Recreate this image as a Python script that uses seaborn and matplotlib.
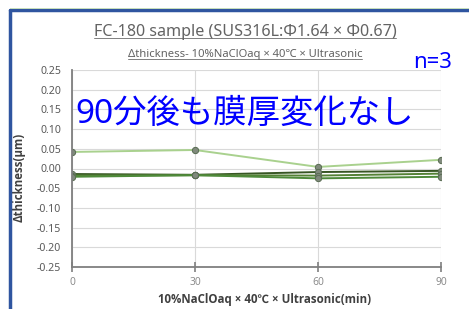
import matplotlib
matplotlib.use('Agg')
import matplotlib.pyplot as plt
from matplotlib.lines import Line2D
import numpy as np
import pandas as pd
import seaborn as sns

# data
minutes = [0, 30, 60, 90]
series_names = ['s1', 's2', 's3', 's4']
s1 = [0.042, 0.047, 0.004, 0.022]
s2 = [-0.014, -0.016, -0.009, -0.006]
s3 = [-0.018, -0.017, -0.018, -0.013]
s4 = [-0.021, -0.017, -0.025, -0.021]
y_ticks = [0.25, 0.20, 0.15, 0.10, 0.05, 0.00, -0.05, -0.10, -0.15, -0.20, -0.25]
x_ticks = [0, 30, 60, 90]

df = pd.DataFrame({
    'min': minutes * 4,
    'dt': s1 + s2 + s3 + s4,
    'series': np.repeat(series_names, len(minutes)),
})

sns.set_style('whitegrid')
plt.rcParams['font.family'] = ['Noto Sans', 'Noto Sans CJK JP', 'DejaVu Sans']
bold_fam = ['Open Sans', 'Noto Sans CJK JP', 'DejaVu Sans']

fig = plt.figure(figsize=(4.69, 3.09), dpi=100)
W, H = 469, 309
ax = fig.add_axes([72 / W, (H - 267) / H, (441 - 72) / W, (267 - 70) / H])

palette = {'s1': '#a9d18e', 's2': '#375623', 's3': '#548235', 's4': '#4e8a3a'}
sns.lineplot(data=df, x='min', y='dt', hue='series', palette=palette, ax=ax,
             marker='o', markersize=4.5, markerfacecolor='#808a7c',
             markeredgecolor='#5b6e55', linewidth=1.4, legend=False)

ax.set_xlim(0, 90)
ax.set_ylim(-0.25, 0.25)
ax.set_xticks(x_ticks)
ax.set_yticks(y_ticks)
ax.set_yticklabels([f'{v:.2f}' for v in y_ticks])
ax.grid(True, color='#d9d9d9', linewidth=0.8)
for s in ['top', 'right']:
    ax.spines[s].set_visible(False)
for s in ['left', 'bottom']:
    ax.spines[s].set_visible(True)
    ax.spines[s].set_color('#7f7f7f')
    ax.spines[s].set_linewidth(1.3)
ax.tick_params(axis='y', labelsize=7.6, labelcolor='#595959', length=0, pad=8)
ax.tick_params(axis='x', labelsize=7.4, labelcolor='#8c8c8c', direction='inout',
               length=7, width=1.2, color='#7f7f7f', bottom=True, pad=4)
ax.set_xlabel('10%NaClOaq × 40℃ × Ultrasonic(min)', fontsize=8.3,
              fontweight='bold', color='#404040', family=bold_fam)
ax.xaxis.label.set_va('center')
ax.xaxis.set_label_coords(265 / W, 1 - 299 / H, transform=fig.transFigure)
ax.set_ylabel('Δthickness(μm)', fontsize=8.3, fontweight='bold', color='#404040',
              family=bold_fam)
ax.yaxis.label.set_va('center')
ax.yaxis.set_label_coords(19 / W, 1 - 177 / H, transform=fig.transFigure)

title = fig.text(245 / W, 1 - 32 / H, 'FC-180 sample (SUS316L:Φ1.64 × Φ0.67)',
                 ha='center', va='center', fontsize=11.6, color='#636363')
sub = fig.text(245 / W, 1 - 55 / H, 'Δthickness- 10%NaClOaq × 40℃ × Ultrasonic',
               ha='center', va='center', fontsize=8.1, color='#636363')

fig.text(433 / W, 1 - 62 / H, 'n=3', ha='center', va='center', fontsize=16,
         color='#0000ff')
fig.text(245 / W, 1 - 114 / H, '90分後も膜厚変化なし', ha='center', va='center',
         fontsize=24, color='#0000ff')

# underline title and subtitle
fig.canvas.draw()
r = fig.canvas.get_renderer()
for t, off in [(title, 2), (sub, 1.5)]:
    bb = t.get_window_extent(r)
    yline = (bb.y0 + off) / H
    fig.add_artist(Line2D([bb.x0 / W, bb.x1 / W], [yline, yline], color='#808080',
                          linewidth=0.7))

# screenshot frame
fig.add_artist(Line2D([10 / W, 1], [1 - 10 / H, 1 - 10 / H], color='#2f55a0', linewidth=2.5))
fig.add_artist(Line2D([10 / W, 10 / W], [0, 1 - 10 / H], color='#2f55a0', linewidth=2.5))
fig.add_artist(Line2D([10 / W, 1], [1 - 8 / H, 1 - 8 / H], color='#c5e0b4', linewidth=0.6))

fig.savefig('out.png', dpi=100)
